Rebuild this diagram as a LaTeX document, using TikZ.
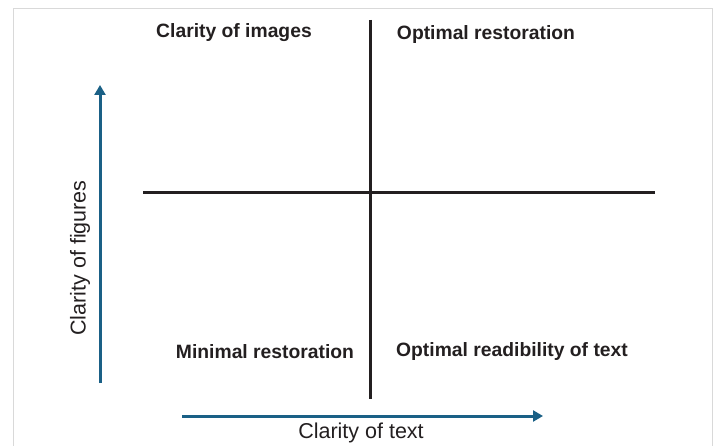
\documentclass[tikz,border=0pt]{standalone}
\usepackage{fontspec}
\setmainfont{Liberation Sans}
\usetikzlibrary{arrows.meta}
\definecolor{axisblue}{RGB}{26,96,134}
\definecolor{inkdark}{RGB}{35,31,32}
\definecolor{framegray}{RGB}{217,217,217}
\begin{document}
\begin{tikzpicture}[x=1pt,y=-1pt,
  quadlabel/.style={inner sep=0pt, text=inkdark, font=\fontsize{19.3}{21}\selectfont\bfseries},
  axislabel/.style={inner sep=0pt, text=inkdark, font=\fontsize{21.5}{24}\selectfont},
  axisarrow/.style={draw=axisblue, line width=3pt, -{Triangle[length=10pt,width=11pt]}},
  divider/.style={draw=inkdark, line width=3pt}]
  \useasboundingbox (0,0) rectangle (717,446);
  % outer frame
  \draw[framegray, line width=1pt] (13,446) -- (13,9) -- (712,9) -- (712,446);

  % quadrant dividers
  \coordinate (vtop) at (370,20);
  \coordinate (vbot) at (370,399);
  \coordinate (hleft) at (143,193);
  \coordinate (hright) at (655,193);
  \draw[divider] (vtop) -- (vbot);
  \draw[divider] (hleft) -- (hright);

  % axes
  \coordinate (yfrom) at (100,383);
  \coordinate (yto) at (100,85);
  \coordinate (xfrom) at (182,416);
  \coordinate (xto) at (543,416);
  \draw[axisarrow] (yfrom) -- (yto);
  \draw[axisarrow] (xfrom) -- (xto);

  % quadrant labels
  \node[quadlabel] (images) at (234,33) {Clarity of images};
  \node[quadlabel] (optrest) at (486,35) {Optimal restoration};
  \node[quadlabel] (minrest) at (265,352) {Minimal restoration};
  \node[quadlabel] (optread) at (512,352) {Optimal readibility of text};

  % axis labels
  \node[axislabel] (xlabel) at (361,433) {Clarity of text};
  \node[axislabel, rotate=90] (ylabel) at (80,258) {Clarity of figures};
\end{tikzpicture}
\end{document}
